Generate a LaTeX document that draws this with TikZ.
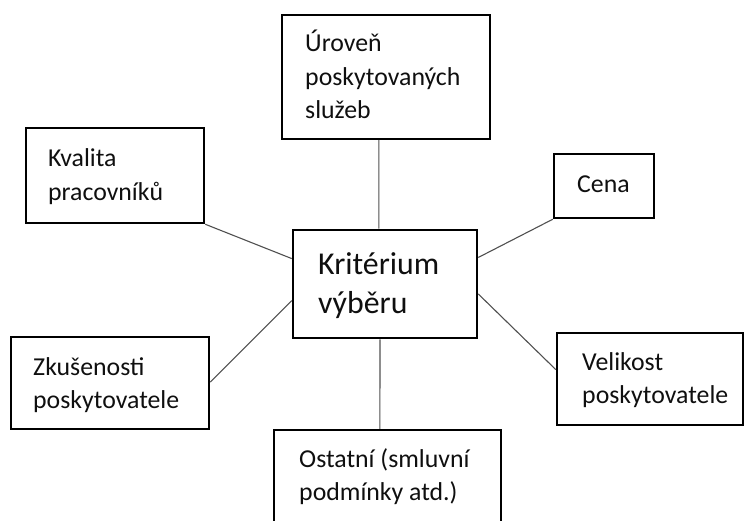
\documentclass[tikz,border=0pt]{standalone}
\usepackage{fontspec}
\setmainfont{Carlito}
\usetikzlibrary{calc,fit}
\definecolor{linegray}{RGB}{80,80,80}
\definecolor{textgray}{RGB}{15,15,15}
\begin{document}
\begin{tikzpicture}[x=1pt,y=-1pt,
  box/.style={draw=black, line width=2.5pt, rectangle, inner sep=0pt},
  conn/.style={draw=linegray, line width=1.1pt},
  lbl/.style={anchor=base west, inner sep=0pt, text=textgray, font=\fontsize{25.8}{33.5}\selectfont},
  biglbl/.style={lbl, font=\fontsize{31.8}{39.5}\selectfont}]
\useasboundingbox (0,0) rectangle (746,521);
\clip (0,0) rectangle (746,521);
% boxes
\node[box, fit={(282,15) (490,139)}] (up) {};
\node[box, fit={(26,128) (204,223)}] (kval) {};
\node[box, fit={(293,230) (477,338)}] (cen) {};
\node[box, fit={(554,154) (654,218)}] (cena) {};
\node[box, fit={(557,333) (743,425)}] (velik) {};
\node[box, fit={(11,337) (209,429)}] (zk) {};
\node[box, fit={(274,430) (501,550)}] (ost) {};
% texts
\node[lbl] (tup) at (305,52) {\begin{tabular}[t]{@{}l@{}}Úroveň\\poskytovaných\\služeb\end{tabular}};
\node[lbl] (tkval) at (48,167) {\begin{tabular}[t]{@{}l@{}}Kvalita\\pracovníků\end{tabular}};
\node[biglbl] (tcen) at (318,274) {\begin{tabular}[t]{@{}l@{}}Kritérium\\výběru\end{tabular}};
\node[lbl] (tcena) at (577,193) {Cena};
\node[lbl] (tvelik) at (582,370) {\begin{tabular}[t]{@{}l@{}}Velikost\\poskytovatele\end{tabular}};
\node[lbl] (tzk) at (33,375) {\begin{tabular}[t]{@{}l@{}}Zkušenosti\\poskytovatele\end{tabular}};
\node[lbl] (tost) at (299,467) {\begin{tabular}[t]{@{}l@{}}Ostatní (smluvní\\podmínky atd.)\end{tabular}};
% connectors
\draw[conn] ($(up.south west)!0.466!(up.south east)$) -- ($(cen.north west)!0.467!(cen.north east)$);
\draw[conn] (kval.south east) -- ($(cen.north west)!0.27!(cen.south west)$);
\draw[conn] (cena.south west) -- ($(cen.north east)!0.26!(cen.south east)$);
\draw[conn] ($(cen.north east)!0.59!(cen.south east)$) -- ($(velik.north west)!0.40!(velik.south west)$);
\draw[conn] ($(cen.north west)!0.65!(cen.south west)$) -- ($(zk.north east)!0.49!(zk.south east)$);
\draw[conn] ($(cen.south west)!0.473!(cen.south east)$) -- ($(ost.north west)!0.467!(ost.north east)$);
\end{tikzpicture}
\end{document}
